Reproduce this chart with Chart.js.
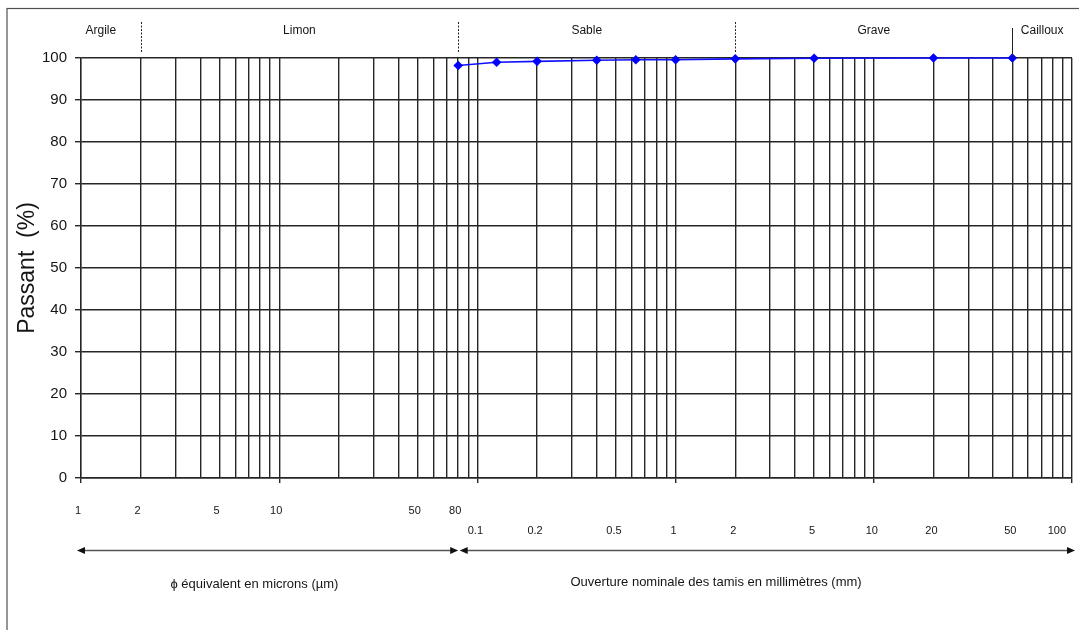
<!DOCTYPE html>
<html lang="fr">
<head>
<meta charset="utf-8">
<title>Courbe granulométrique</title>
<script src="https://cdn.jsdelivr.net/npm/chart.js@4.4.1/dist/chart.umd.min.js"></script>
<style>
  html, body { margin: 0; padding: 0; background: #fff; }
  #wrap { width: 1079px; height: 630px; position: relative; }
</style>
</head>
<body>
<div id="wrap"><canvas id="granuloChart"></canvas></div>
<script>
// Tamisats : ouverture des tamis (mm) et pourcentage passant
const sieveSizes = [0.08, 0.125, 0.2, 0.4, 0.63, 1, 2, 5, 20, 50];
const passingPct = [98.2, 99.0, 99.2, 99.45, 99.6, 99.6, 99.8, 99.95, 100, 100];

// Classes granulométriques et leurs limites (mm)
const zoneNames = ['Argile', 'Limon', 'Sable', 'Grave', 'Cailloux'];
const zoneLimits = [0.002, 0.08, 2, 50];

// Graduations écrites sous le graphique
const micronLabels = ['1', '2', '5', '10', '50', '80'];
const millimLabels = ['0.1', '0.2', '0.5', '1', '2', '5', '10', '20', '50', '100'];

// Etendue de l'axe des abscisses (mm) et graduations de l'axe Y
const xMin = 0.001;
const xMax = 100;
const yMin = 0;
const yMax = 100;
const yStep = 10;

const FONT = "'Liberation Sans', Arial, sans-serif";
const INK = '#151515';
const GRID = '#262626';

// lignes verticales du papier semi-log : 1..9 x 10^n
function buildLogGrid(min, max) {
  const values = [];
  const e0 = Math.round(Math.log10(min));
  const e1 = Math.round(Math.log10(max));
  for (let e = e0; e < e1; e++) {
    for (let m = 1; m < 10; m++) {
      values.push(parseFloat((m * Math.pow(10, e)).toPrecision(3)));
    }
  }
  values.push(max);
  return values;
}

function isDecade(v) {
  const l = Math.log10(v);
  return Math.abs(l - Math.round(l)) < 1e-6;
}

const gridValues = buildLogGrid(xMin, xMax);

function drawArrowHead(ctx, x, y, dir) {
  ctx.beginPath();
  ctx.moveTo(x, y);
  ctx.lineTo(x - dir * 8, y - 3.5);
  ctx.lineTo(x - dir * 8, y + 3.5);
  ctx.closePath();
  ctx.fill();
}

function drawDoubleArrow(ctx, x1, x2, y) {
  ctx.strokeStyle = '#555';
  ctx.lineWidth = 1.3;
  ctx.beginPath();
  ctx.moveTo(x1 + 4, y);
  ctx.lineTo(x2 - 4, y);
  ctx.stroke();
  ctx.fillStyle = '#111';
  drawArrowHead(ctx, x1, y, -1);
  drawArrowHead(ctx, x2, y, 1);
}

const granuloDecor = {
  id: 'granuloDecor',
  afterDraw(chart) {
    const { ctx, chartArea: area } = chart;
    const x = chart.scales.x;
    ctx.save();

    // cadre
    ctx.strokeStyle = '#505050';
    ctx.lineWidth = 1.2;
    ctx.strokeRect(7, 8.5, 1200, 800);

    // titre de l'axe Y
    ctx.fillStyle = INK;
    ctx.save();
    ctx.translate(28, (area.top + area.bottom) / 2);
    ctx.rotate(-Math.PI / 2);
    ctx.font = '23px ' + FONT;
    ctx.textAlign = 'center';
    ctx.textBaseline = 'middle';
    ctx.fillText('Passant  (%)', 0, 0);
    ctx.restore();

    // limites des classes
    ctx.strokeStyle = '#222';
    ctx.lineWidth = 1;
    zoneLimits.forEach((lim, i) => {
      const px = Math.round(x.getPixelForValue(lim)) + 0.5;
      ctx.beginPath();
      if (i < zoneLimits.length - 1) {
        ctx.setLineDash([2, 1.5]);
        ctx.moveTo(px, area.top - 36);
        ctx.lineTo(px, area.top - 5);
      } else {
        ctx.setLineDash([]);
        ctx.moveTo(px, area.top - 30);
        ctx.lineTo(px, area.top);
      }
      ctx.stroke();
    });
    ctx.setLineDash([]);

    // noms des classes
    ctx.font = '12px ' + FONT;
    ctx.textAlign = 'center';
    ctx.textBaseline = 'middle';
    zoneNames.forEach((name, i) => {
      const l = i === 0 ? area.left : x.getPixelForValue(zoneLimits[i - 1]);
      const r = i === zoneNames.length - 1 ? area.right : x.getPixelForValue(zoneLimits[i]);
      const shift = (i === 0 || i === 2) ? -10 : 0;
      ctx.fillText(name, (l + r) / 2 + shift, area.top - 27);
    });

    // graduations en microns et en millimètres
    ctx.font = '11px ' + FONT;
    micronLabels.forEach(lbl => {
      const px = x.getPixelForValue(parseFloat(lbl) / 1000) - 3;
      ctx.fillText(lbl, px, area.bottom + 33);
    });
    millimLabels.forEach(lbl => {
      let px = x.getPixelForValue(parseFloat(lbl)) - 2;
      const w = ctx.measureText(lbl).width;
      px = Math.min(px, area.right - w / 2 - 6);
      ctx.fillText(lbl, px, area.bottom + 53);
    });

    // flèches
    const mid = x.getPixelForValue(zoneLimits[1]);
    const arrowY = area.bottom + 72.5;
    drawDoubleArrow(ctx, area.left - 4, mid, arrowY);
    drawDoubleArrow(ctx, mid + 1.5, area.right + 3, arrowY);

    // légendes des deux parties
    ctx.fillStyle = INK;
    ctx.font = '13px ' + FONT;
    ctx.fillText('\u03D5 équivalent en microns (µm)', x.getPixelForValue(0.0075), area.bottom + 106);
    ctx.fillText('Ouverture nominale des tamis en millimètres (mm)', x.getPixelForValue(1.6), area.bottom + 104);

    ctx.restore();
  }
};

document.addEventListener('DOMContentLoaded', () => {
  const ctx = document.getElementById('granuloChart').getContext('2d');
  new Chart(ctx, {
    type: 'line',
    data: {
      datasets: [{
        label: 'Passant',
        data: sieveSizes.map((s, i) => ({ x: s, y: passingPct[i] })),
        borderColor: '#1010ff',
        backgroundColor: '#0000ff',
        borderWidth: 1.6,
        pointStyle: 'rectRot',
        pointRadius: 4.8,
        pointHoverRadius: 4.8,
        pointBorderWidth: 0,
        pointBackgroundColor: '#0000ff',
        tension: 0,
        fill: false,
        clip: false
      }]
    },
    options: {
      responsive: true,
      maintainAspectRatio: false,
      animation: false,
      events: [],
      layout: { padding: { left: 0, top: 58, right: 7, bottom: 0 } },
      plugins: {
        legend: { display: false },
        tooltip: { enabled: false }
      },
      scales: {
        x: {
          type: 'logarithmic',
          min: xMin,
          max: xMax,
          afterBuildTicks: scale => {
            scale.ticks = gridValues.map(v => ({ value: v, major: isDecade(v) }));
          },
          afterFit: scale => { scale.height = 152; },
          ticks: { display: false },
          grid: {
            color: GRID,
            lineWidth: 1.4,
            drawTicks: true,
            tickLength: 5,
            tickColor: c => (c.tick && isDecade(c.tick.value)) ? GRID : 'rgba(0,0,0,0)'
          },
          border: { display: true, color: GRID, width: 1.4 }
        },
        y: {
          min: yMin,
          max: yMax,
          afterFit: scale => { scale.width = 81; },
          ticks: {
            stepSize: yStep,
            color: INK,
            padding: 8,
            font: { family: FONT, size: 15 }
          },
          grid: { color: GRID, lineWidth: 1.4, tickLength: 6 },
          border: { color: GRID, width: 1.4 }
        }
      }
    },
    plugins: [granuloDecor]
  });
});
</script>
</body>
</html>
